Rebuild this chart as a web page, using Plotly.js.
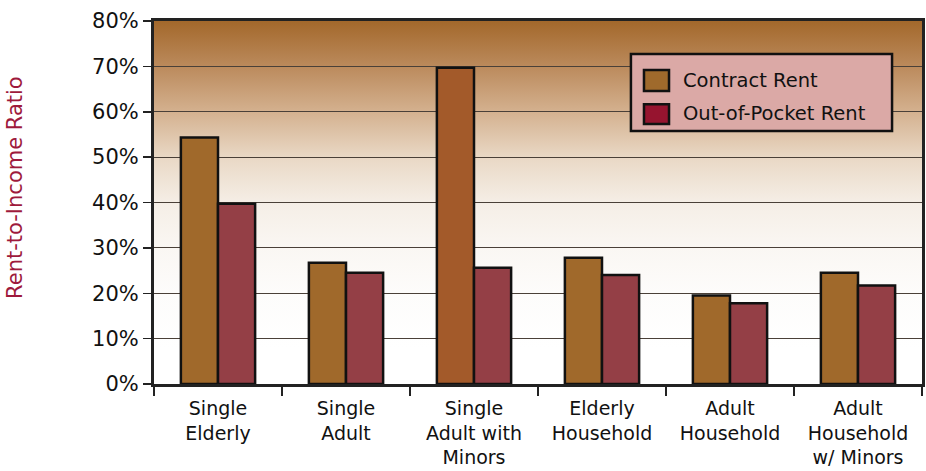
<!DOCTYPE html>
<html>
<head>
<meta charset="utf-8">
<script src="https://cdn.plot.ly/plotly-3.0.1.min.js"></script>
<style>
  html, body { margin: 0; padding: 0; background: #ffffff; }
  #chart { width: 926px; height: 471px; }
</style>
</head>
<body>
<div id="chart"></div>
<script>
// Household types (x categories)
const categories = [
  'Single<br>Elderly',
  'Single<br>Adult',
  'Single<br>Adult with<br>Minors',
  'Elderly<br>Household',
  'Adult<br>Household',
  'Adult<br>Household<br>w/ Minors'
];

// Rent-to-income ratios per household type
const contractRent    = [0.543, 0.267, 0.697, 0.278, 0.195, 0.245];
const outOfPocketRent = [0.397, 0.245, 0.256, 0.240, 0.178, 0.217];

const seriesNames = ['Contract Rent', 'Out-of-Pocket Rent'];
const yTickValues = [0, 0.1, 0.2, 0.3, 0.4, 0.5, 0.6, 0.7, 0.8];

const FONT = 'DejaVu Sans, Verdana, sans-serif';

// Brown-to-white vertical gradient painted behind the plot area
const gradientSvg =
  '<svg xmlns="http://www.w3.org/2000/svg" width="100" height="100" preserveAspectRatio="none">' +
  '<defs><linearGradient id="g" x1="0" y1="0" x2="0" y2="1">' +
  '<stop offset="0" stop-color="#a3682b"/>' +
  '<stop offset="0.125" stop-color="#bb8a5c"/>' +
  '<stop offset="0.25" stop-color="#d4b18f"/>' +
  '<stop offset="0.375" stop-color="#e9d8c5"/>' +
  '<stop offset="0.5" stop-color="#f5eee6"/>' +
  '<stop offset="0.625" stop-color="#faf7f3"/>' +
  '<stop offset="0.75" stop-color="#fdfcfb"/>' +
  '<stop offset="0.9" stop-color="#ffffff"/>' +
  '<stop offset="1" stop-color="#ffffff"/>' +
  '</linearGradient></defs>' +
  '<rect width="100" height="100" fill="url(#g)"/></svg>';
const gradientUri = 'data:image/svg+xml;utf8,' + encodeURIComponent(gradientSvg);

const traces = [
  {
    type: 'bar',
    name: seriesNames[0],
    x: categories,
    y: contractRent,
    marker: {
      color: ['#a0692b', '#a0692b', '#a35a2a', '#a0692b', '#a0692b', '#a0692b'],
      line: { color: '#111111', width: 2.5 }
    },
    showlegend: false,
    hoverinfo: 'skip'
  },
  {
    type: 'bar',
    name: seriesNames[1],
    x: categories,
    y: outOfPocketRent,
    marker: {
      color: '#943f46',
      line: { color: '#111111', width: 2.5 }
    },
    showlegend: false,
    hoverinfo: 'skip'
  }
];

// Hand-drawn legend box
const legendBox = { x0: 0.621, x1: 0.961, y0: 0.697, y1: 0.909 };
const swatches = [
  { color: '#9f6a2c', y0: 0.807, y1: 0.865, ty: 0.837 },
  { color: '#96142f', y0: 0.716, y1: 0.771, ty: 0.744 }
];

const shapes = [
  {
    type: 'rect', xref: 'paper', yref: 'paper',
    x0: legendBox.x0, x1: legendBox.x1, y0: legendBox.y0, y1: legendBox.y1,
    fillcolor: '#dba9a6', line: { color: '#111111', width: 2.5 }, layer: 'above'
  }
];
const annotations = [
  {
    xref: 'paper', yref: 'paper', x: -0.181, y: 0.543,
    text: 'Rent-to-Income Ratio', textangle: -90, showarrow: false,
    font: { family: FONT, size: 21, color: '#9e1a3c' },
    xanchor: 'center', yanchor: 'middle'
  }
];
swatches.forEach((s, i) => {
  shapes.push({
    type: 'rect', xref: 'paper', yref: 'paper',
    x0: 0.638, x1: 0.6706, y0: s.y0, y1: s.y1,
    fillcolor: s.color, line: { color: '#111111', width: 2.5 }, layer: 'above'
  });
  annotations.push({
    xref: 'paper', yref: 'paper', x: 0.686, y: s.ty,
    text: seriesNames[i], showarrow: false,
    xanchor: 'left', yanchor: 'middle',
    font: { family: FONT, size: 19.5, color: '#111111' }
  });
});

const layout = {
  width: 926,
  height: 471,
  margin: { l: 154, r: 4, t: 21, b: 87 },
  paper_bgcolor: '#ffffff',
  plot_bgcolor: 'rgba(0,0,0,0)',
  barmode: 'group',
  bargap: 0.42,
  bargroupgap: 0,
  font: { family: FONT, size: 20, color: '#111111' },
  images: [{
    source: gradientUri, xref: 'paper', yref: 'paper',
    x: 0, y: 1, sizex: 1, sizey: 1,
    xanchor: 'left', yanchor: 'top',
    sizing: 'stretch', layer: 'below'
  }],
  xaxis: {
    type: 'category',
    tickson: 'boundaries',
    ticks: 'outside',
    ticklen: 9,
    tickwidth: 1.5,
    tickcolor: '#222222',
    ticklabelstandoff: 5,
    showline: true,
    linecolor: '#222222',
    linewidth: 3,
    mirror: true,
    showgrid: false,
    tickfont: { family: FONT, size: 19, color: '#111111' },
    automargin: false
  },
  yaxis: {
    range: [0, 0.8],
    tickvals: yTickValues,
    tickformat: '.0%',
    ticks: 'outside',
    ticklen: 8,
    tickwidth: 1.5,
    tickcolor: '#222222',
    showline: true,
    linecolor: '#222222',
    linewidth: 3,
    mirror: true,
    showgrid: true,
    gridcolor: '#4a4038',
    gridwidth: 1.2,
    zeroline: false,
    tickfont: { family: FONT, size: 21, color: '#111111' },
    automargin: false
  },
  shapes: shapes,
  annotations: annotations
};

Plotly.newPlot('chart', traces, layout, { displayModeBar: false, staticPlot: true });
</script>
</body>
</html>
